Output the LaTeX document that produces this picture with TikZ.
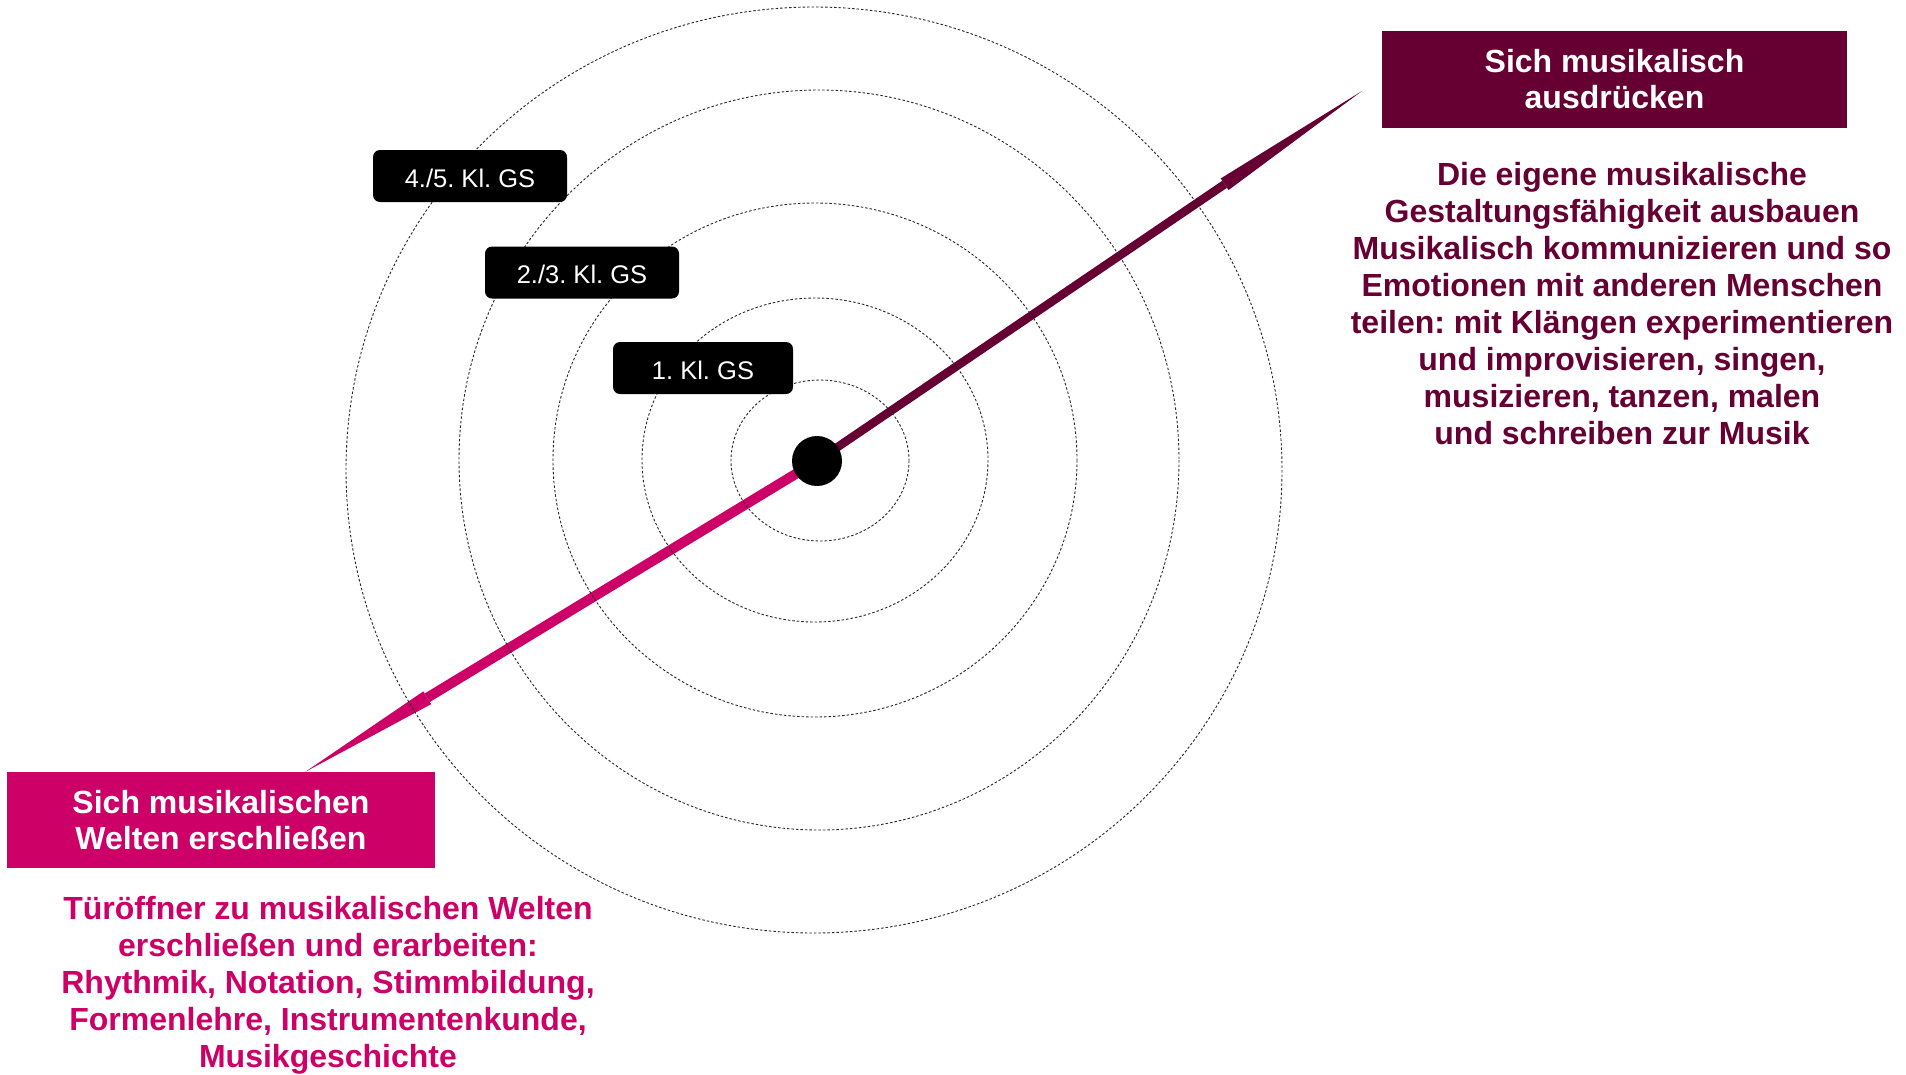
\documentclass[tikz,border=0pt]{standalone}
\usepackage{fontspec}
\setmainfont{Liberation Sans}
\usetikzlibrary{arrows.meta}
\definecolor{maroon}{HTML}{660033}
\definecolor{berry}{HTML}{CC0066}
\pgfdeclarelayer{bg}
\pgfsetlayers{bg,main}
\frenchspacing
\begin{document}
\begin{tikzpicture}[x=1pt,y=-1pt,
  ring/.style={draw=black!85, line width=0.9pt, dash pattern=on 2.5pt off 2pt},
  lab/.style={fill=black, rounded corners=7pt, text=white, font=\frenchspacing\fontsize{25.5}{28}\selectfont, minimum width=194pt, minimum height=52pt, inner sep=0pt, text depth=0pt},
  titlebox/.style={text=white, font=\bfseries\fontsize{32}{36}\selectfont, align=center, inner sep=0pt},
  bodytext/.style={font=\frenchspacing\bfseries\fontsize{32}{37}\selectfont, align=center, inner sep=0pt, anchor=north},
  arr/.style={line width=#1}
]
\useasboundingbox (0,0) rectangle (1906,1074);
% rings
\draw[ring] (820,460.5) ellipse [x radius=89, y radius=80.5];
\draw[ring] (815,460) ellipse [x radius=173, y radius=162];
\draw[ring] (815,460) ellipse [x radius=262, y radius=257];
\draw[ring] (819,460) ellipse [x radius=360, y radius=370];
\draw[ring] (814,470) ellipse [x radius=468, y radius=463];
% labels
\node[lab] (k45) at (470,176) {\raisebox{-4pt}{4./5. Kl. GS}};
\node[lab] (k23) at (582,272.5) {\raisebox{-4pt}{2./3. Kl. GS}};
\node[lab, minimum width=180pt] (k1) at (703,368) {\raisebox{-4pt}{1. Kl. GS}};
% centre dot
\node[circle, fill=black, minimum size=50pt, inner sep=0pt] (dot) at (817,461) {};
% title boxes
\node[titlebox, fill=maroon, minimum width=465pt, minimum height=97pt] (tA) at (1614.5,79.5) {Sich musikalisch\\ausdrücken};
\node[titlebox, fill=berry, minimum width=428pt, minimum height=96pt] (tB) at (221,820) {Sich musikalischen\\Welten erschließen};
% body texts
\node[bodytext, text=maroon] (dA) at (1622,162.5) {Die eigene musikalische\\
Gestaltungsfähigkeit ausbauen\\
Musikalisch kommunizieren und so\\
Emotionen mit anderen Menschen\\
teilen: mit Klängen experimentieren\\
und improvisieren, singen,\\
musizieren, tanzen, malen\\
und schreiben zur Musik};
\node[bodytext, text=berry] (dB) at (328,896) {Türöffner zu musikalischen Welten\\
erschließen und erarbeiten:\\
Rhythmik, Notation, Stimmbildung,\\
Formenlehre, Instrumentenkunde,\\
Musikgeschichte};
% arrows
\coordinate (tipA) at (1362,91);
\coordinate (tipB) at (305,772);
\begin{pgfonlayer}{bg}
\draw[maroon, arr=8.5pt, -{Triangle[length=166pt, width=14pt, line width=0pt]}] (dot.center) -- (tipA);
\draw[berry, arr=10pt, -{Triangle[length=143pt, width=15pt, line width=0pt]}] (dot.center) -- (tipB);
\end{pgfonlayer}
\end{tikzpicture}
\end{document}
